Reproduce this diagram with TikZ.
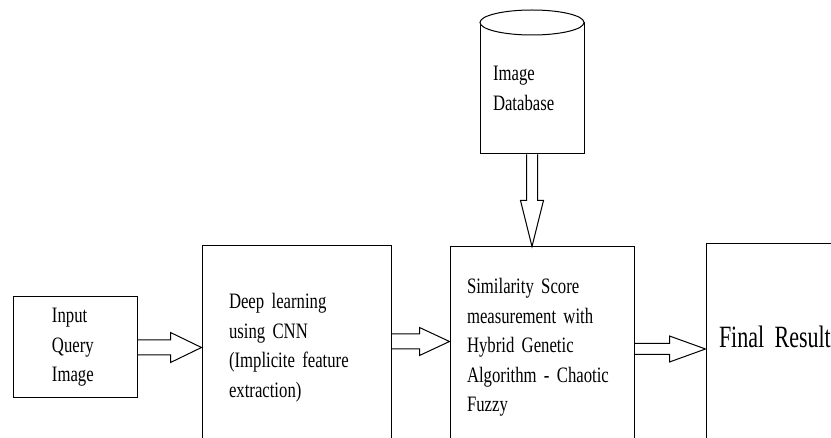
\documentclass[tikz,border=0pt]{standalone}
\usepackage{fontspec}
\setmainfont{Liberation Serif}[FakeStretch=0.76]
\newfontfamily\resultfont{Liberation Serif}[FakeStretch=0.71]
\usepackage{tikz}
\usetikzlibrary{positioning,calc}
% hollow block arrows: from, to, y offset, shaft half width, head half width, head length
\newcommand{\harrow}[6]{%
    \draw[blockarrow] ($(#1.east)+(0,#3+#4)$) -- ($(#1.east -| #2.west)+(-#6,#3+#4)$)
        -- ($(#1.east -| #2.west)+(-#6,#3+#5)$) -- ($(#1.east -| #2.west)+(0,#3)$)
        -- ($(#1.east -| #2.west)+(-#6,#3-#5)$) -- ($(#1.east -| #2.west)+(-#6,#3-#4)$)
        -- ($(#1.east)+(0,#3-#4)$);}
\newcommand{\varrow}[5]{%
    \draw[blockarrow] ($(#1.south)+(-#3,0)$) -- ($(#1.south |- #2.north)+(-#3,#5)$)
        -- ($(#1.south |- #2.north)+(-#4,#5)$) -- (#1.south |- #2.north)
        -- ($(#1.south |- #2.north)+(#4,#5)$) -- ($(#1.south |- #2.north)+(#3,#5)$)
        -- ($(#1.south)+(#3,0)$);}

\begin{document}
\begin{tikzpicture}[x=1pt,y=1pt,font=\fontsize{22pt}{29.5pt}\selectfont]
    \tikzstyle{block}=[draw, line width=1pt, align=left, inner sep=0pt]
    \tikzstyle{blockarrow}=[line width=1pt, line join=miter]
    \useasboundingbox (0,0) rectangle (831,-438);
    \clip (0,0) rectangle (831,-438);

    \node[block, minimum width=124, minimum height=101, text width=46] (input) at (75,-347.5) {Input\\Query\\Image};
    \node[block, right=64pt of input, minimum width=189, minimum height=203, text width=135] (deep) {Deep learning\\using CNN\\(Implicite feature\\extraction)};
    \node[block, right=58pt of deep, minimum width=184, minimum height=201, text width=150] (sim) {Similarity Score\\measurement with\\Hybrid Genetic\\Algorithm - Chaotic\\Fuzzy};
    \node[block, right=71pt of sim, minimum width=140, minimum height=207, text width=114, text height=11pt, text depth=10pt, font=\resultfont\fontsize{31pt}{36pt}\selectfont] (final) {Final Result};
    \node[block, above=92pt of sim, xshift=-10pt, minimum width=104, minimum height=131, text width=78] (db) {Image\\Database};
    \draw[line width=1pt, fill=white] (db.north) ellipse [x radius=52, y radius=12.5];

    \harrow{input}{deep}{0}{7.5}{15}{31}
    \harrow{deep}{sim}{6}{7.5}{14}{30}
    \harrow{sim}{final}{-1.5}{5.5}{13}{36}
    \varrow{db}{sim}{5.5}{11.5}{46}
\end{tikzpicture}
\end{document}
